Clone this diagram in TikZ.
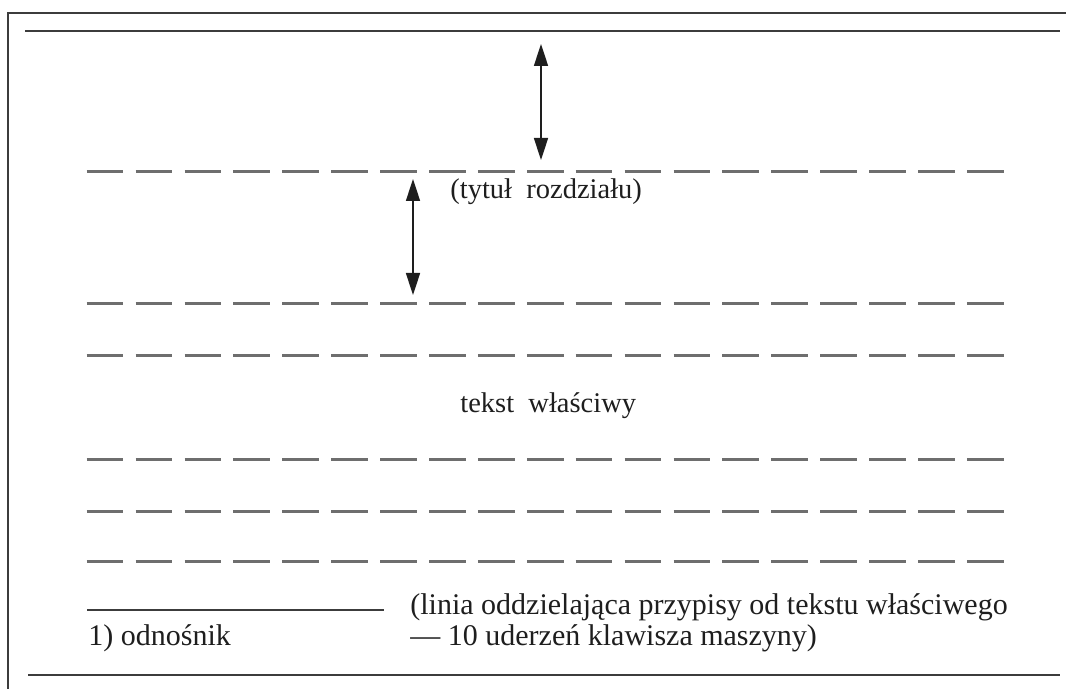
\documentclass[tikz,border=0pt]{standalone}
\usepackage{fontspec}
\setmainfont{Liberation Serif}
\usetikzlibrary{arrows.meta}
\definecolor{framec}{HTML}{3C3C3C}
\definecolor{dashc}{HTML}{6E6E6E}
\definecolor{txtc}{HTML}{1E1E1E}
\begin{document}
\begin{tikzpicture}[x=0.5pt,y=-0.5pt,
  frameline/.style={draw=framec,line width=1.3pt},
  ruleline/.style={draw=framec,line width=1pt},
  dashline/.style={draw=dashc,line width=1.5pt,dash pattern=on 18.35pt off 6.1pt},
  dimarrow/.style={draw=txtc,line width=0.8pt,{Triangle[length=11pt,width=7pt]}-{Triangle[length=11pt,width=7pt]}},
  lbl/.style={inner sep=0pt,anchor=base west,text=txtc,font=\fontsize{14.25}{17}\selectfont},
  notelbl/.style={lbl,font=\fontsize{15}{18}\selectfont}]
\useasboundingbox (0,0) rectangle (1066,689);
% frame
\draw[frameline] (8,689) -- (8,13) -- (1066,13);
\draw[ruleline] (25,31) -- (1060,31);
\draw[ruleline] (28,675) -- (1060,675);
% dashed text lines
\foreach \yy in {172,304,356,460,512,562}
  \draw[dashline] (86.7,\yy) -- (1004,\yy);
% footnote separator
\draw[ruleline] (87,610) -- (384,610);
% arrows
\coordinate (a1t) at (541,44);
\coordinate (a1b) at (541,160);
\coordinate (a2t) at (413,179);
\coordinate (a2b) at (413,295);
\draw[dimarrow] (a1t) -- (a1b);
\draw[dimarrow] (a2t) -- (a2b);
% texts
\node[lbl] (title) at (450,199) {(tytuł\ \ rozdziału)};
\node[lbl] (body) at (460,413) {tekst\ \ właściwy};
\node[notelbl] (note1) at (410,614) {(linia oddzielająca przypisy od tekstu właściwego};
\node[notelbl] (note2) at (410,646) {— 10 uderzeń klawisza maszyny)};
\node[notelbl] (ref) at (88,646) {1) odnośnik};
\end{tikzpicture}
\end{document}
